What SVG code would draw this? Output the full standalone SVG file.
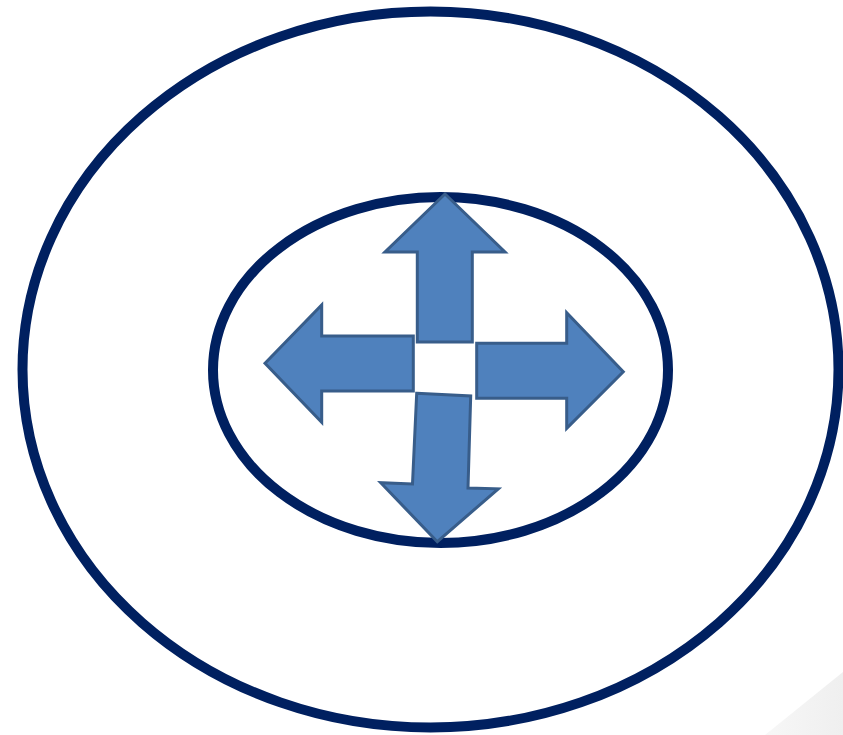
<svg xmlns="http://www.w3.org/2000/svg" width="843" height="735" viewBox="0 0 843 735">
<defs>
<linearGradient id="sh" x1="0" y1="0" x2="1" y2="0">
<stop offset="0" stop-color="#f7f7f7"/>
<stop offset="1" stop-color="#efefef"/>
</linearGradient>
<style>
.ring{fill:none;stroke:#002060;stroke-width:10}
.arr{fill:#4F81BD;stroke:#385D8A;stroke-width:3;stroke-linejoin:miter}
</style>
</defs>
<rect width="843" height="735" fill="#fff"/>
<polygon points="765,735 843,672 843,735" fill="url(#sh)"/>
<g id="outer-ring"><ellipse class="ring" cx="430.5" cy="369.5" rx="408" ry="358"/></g>
<g id="inner-ring"><ellipse class="ring" cx="440.5" cy="370" rx="227.5" ry="173"/></g>
<g id="arrow-up"><polygon class="arr" points="445,194 505,252 472.3,252 472.3,342 417.3,342 417.3,252 385,252"/></g>
<g id="arrow-left"><polygon class="arr" points="265,363.3 321.7,305 321.7,336 413.3,336 413.3,391 321.7,391 321.7,422.3"/></g>
<g id="arrow-right"><polygon class="arr" points="623.3,371.7 566.7,312.7 566.7,343.3 476.7,343.3 476.7,398.3 566.7,398.3 566.7,428.3"/></g>
<g id="arrow-down"><polygon class="arr" points="416.7,393.3 470.7,396 468,488 498.3,488.8 437.3,541.7 380.7,482.7 412.5,484"/></g>
</svg>
